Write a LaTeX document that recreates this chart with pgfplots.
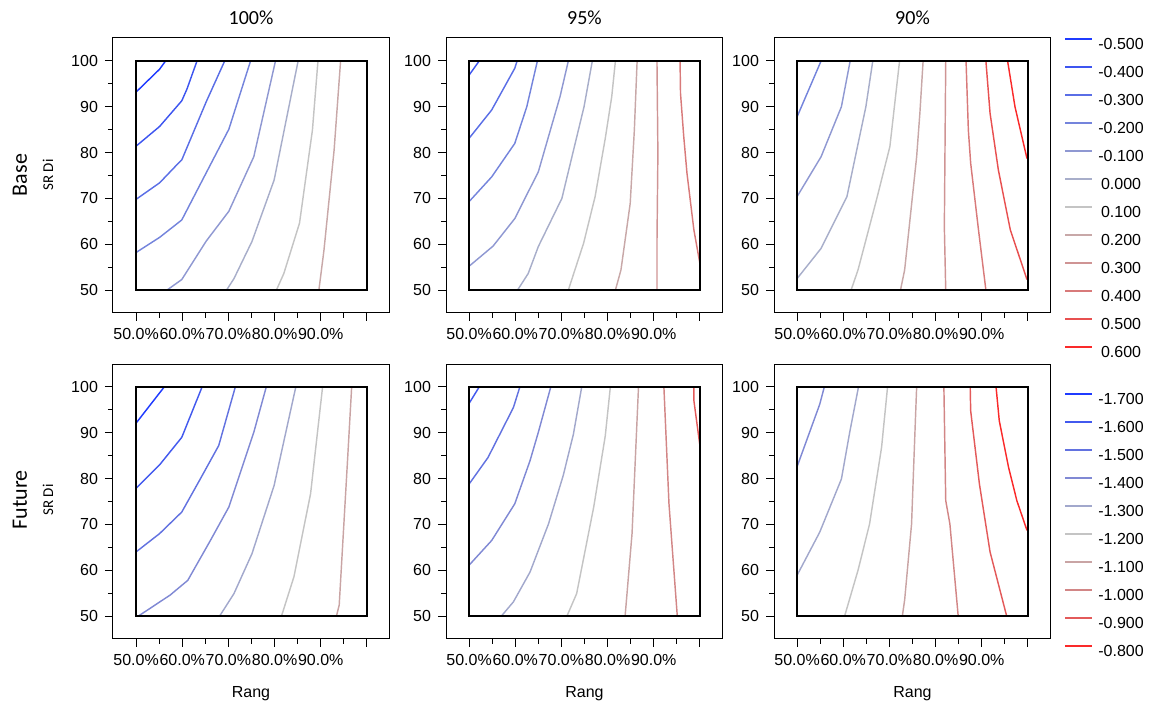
\documentclass[border=0pt]{standalone}
\usepackage{pgfplots}
\pgfplotsset{compat=1.18}
\usepackage{fontspec}
\setmainfont{Liberation Sans}
\newfontfamily\calfont{Carlito}

\definecolor{cT1}{HTML}{1F3BFF}
\definecolor{cT2}{HTML}{3D55F0}
\definecolor{cT3}{HTML}{5A6EE6}
\definecolor{cT4}{HTML}{7484DC}
\definecolor{cT5}{HTML}{8F98D2}
\definecolor{cT6}{HTML}{A8AECA}
\definecolor{cT7}{HTML}{C4C4C4}
\definecolor{cT8}{HTML}{C8A8A8}
\definecolor{cT9}{HTML}{CF9494}
\definecolor{cT10}{HTML}{D87A7A}
\definecolor{cT11}{HTML}{E85050}
\definecolor{cT12}{HTML}{FA2A2A}

\definecolor{cB1}{HTML}{1F3BFF}
\definecolor{cB2}{HTML}{4259EE}
\definecolor{cB3}{HTML}{6272E0}
\definecolor{cB4}{HTML}{8089D4}
\definecolor{cB5}{HTML}{A2A8CC}
\definecolor{cB6}{HTML}{C4C4C4}
\definecolor{cB7}{HTML}{C9A4A4}
\definecolor{cB8}{HTML}{D28686}
\definecolor{cB9}{HTML}{E35A5A}
\definecolor{cB10}{HTML}{FA2A2A}

\newcommand{\smallfont}{\fontsize{8}{9.5}\selectfont}

\pgfplotsset{
  panel/.style={
    scale only axis, width=138.5pt, height=137.5pt,
    xmin=45, xmax=105, ymin=45, ymax=105,
    anchor=south west, clip=false,
    axis line style={black, line width=0.5pt},
    tick align=outside, xtick pos=bottom, ytick pos=left,
    xtick={50,60,70,80,90,100},
    xticklabels={50.0\%,60.0\%,70.0\%,80.0\%,90.0\%,{}},
    minor xtick={55,65,75,85,95},
    ytick={50,60,70,80,90,100},
    yticklabels={50,60,70,80,90,100},
    minor ytick={55,65,75,85,95},
    major tick length=4pt, minor tick length=2.5pt,
    every tick/.style={black, line width=0.5pt},
    tick label style={font=\smallfont},
    every axis plot/.append style={line width=0.72pt},
  },
  c/.style={#1, forget plot},
  innerbox/.style={black, line width=0.8pt, line cap=rect, line join=miter, forget plot},
  legaxis/.style={
    scale only axis, width=30pt, height=137.5pt,
    xmin=0, xmax=1, ymin=0, ymax=1, hide axis, anchor=south west,
    legend style={draw=none, fill=none, inner sep=0pt, outer sep=0pt,
      font=\smallfont, anchor=north west,
      nodes={inner sep=0pt, text height=6pt, text depth=1.5pt}},
    legend cell align=left,
    legend image code/.code={\draw[##1, line width=1pt] (0pt,3pt) -- (13.5pt,3pt); \path (16.5pt,3pt);},
  },
}

\begin{document}
\begin{tikzpicture}
\useasboundingbox (0,0) rectangle (576pt,352.5pt);

% ---------------- legends (hidden axes) ----------------
\begin{axis}[legaxis, at={(532pt,196pt)},
  legend style={at={(0,1.0)}, row sep=6.5pt}]
\addlegendimage{color=cT1}\addlegendentry{-0.500}
\addlegendimage{color=cT2}\addlegendentry{-0.400}
\addlegendimage{color=cT3}\addlegendentry{-0.300}
\addlegendimage{color=cT4}\addlegendentry{-0.200}
\addlegendimage{color=cT5}\addlegendentry{-0.100}
\addlegendimage{color=cT6}\addlegendentry{\,0.000}
\addlegendimage{color=cT7}\addlegendentry{\,0.100}
\addlegendimage{color=cT8}\addlegendentry{\,0.200}
\addlegendimage{color=cT9}\addlegendentry{\,0.300}
\addlegendimage{color=cT10}\addlegendentry{\,0.400}
\addlegendimage{color=cT11}\addlegendentry{\,0.500}
\addlegendimage{color=cT12}\addlegendentry{\,0.600}
\end{axis}

\begin{axis}[legaxis, at={(532pt,33pt)},
  legend style={at={(0,0.898)}, row sep=6.5pt}]
\addlegendimage{color=cB1}\addlegendentry{-1.700}
\addlegendimage{color=cB2}\addlegendentry{-1.600}
\addlegendimage{color=cB3}\addlegendentry{-1.500}
\addlegendimage{color=cB4}\addlegendentry{-1.400}
\addlegendimage{color=cB5}\addlegendentry{-1.300}
\addlegendimage{color=cB6}\addlegendentry{-1.200}
\addlegendimage{color=cB7}\addlegendentry{-1.100}
\addlegendimage{color=cB8}\addlegendentry{-1.000}
\addlegendimage{color=cB9}\addlegendentry{-0.900}
\addlegendimage{color=cB10}\addlegendentry{-0.800}
\end{axis}

% ---------------- Base, 100% ----------------
\begin{axis}[panel, at={(56.5pt,196pt)}]
\addplot[c=cT1] coordinates {(50,93.2)(55.1,98.2)(56.4,100)};
\addplot[c=cT2] coordinates {(50,81.4)(55.1,85.7)(59.9,91.3)(61.0,93.8)(63.2,100)};
\addplot[c=cT3] coordinates {(50,69.8)(55.1,73.4)(58.8,77.3)(59.9,78.4)(65.2,91.1)(69.2,100)};
\addplot[c=cT4] coordinates {(50,58.2)(55.1,61.5)(59.9,65.3)(65.2,75.6)(70.1,85.1)(74.8,100)};
\addplot[c=cT5] coordinates {(56.7,50)(59.9,52.3)(65.2,60.7)(70.1,67.2)(75.5,79.1)(80.2,100)};
\addplot[c=cT6] coordinates {(69.6,50)(71.2,52.5)(75.1,60.6)(79.9,74.0)(85.1,100)};
\addplot[c=cT7] coordinates {(80.4,50)(82.0,53.6)(85.4,64.6)(88.2,84.9)(89.4,100)};
\addplot[c=cT8] coordinates {(89.6,50)(90.7,58.7)(92.9,80.6)(94.3,100)};
\addplot[innerbox] coordinates {(50,50)(100,50)(100,100)(50,100)(50,50)};
\end{axis}

% ---------------- Base, 95% ----------------
\begin{axis}[panel, at={(223pt,196pt)}]
\addplot[c=cT2] coordinates {(50,96.9)(52.2,100)};
\addplot[c=cT3] coordinates {(50,83.1)(54.9,89.3)(59.9,98.4)(60.4,100)};
\addplot[c=cT4] coordinates {(50,69.3)(54.9,74.7)(59.9,82.0)(62.5,90.0)(64.8,100)};
\addplot[c=cT5] coordinates {(50,55.2)(55.2,59.6)(59.9,65.6)(65.0,75.8)(69.7,92.2)(71.5,100)};
\addplot[c=cT6] coordinates {(60.5,50)(62.8,53.6)(65.0,59.5)(70.1,70.0)(74.9,90.0)(76.7,100)};
\addplot[c=cT7] coordinates {(71.5,50)(74.8,60.2)(77.3,70.4)(79.5,83.1)(80.9,92.2)(81.7,100)};
\addplot[c=cT8] coordinates {(81.7,50)(82.9,54.4)(84.9,68.9)(85.8,84.9)(86.4,100)};
\addplot[c=cT9] coordinates {(90.7,50)(90.7,60.2)(90.9,79.8)(90.7,100)};
\addplot[c=cT10] coordinates {(100,55.8)(98.7,63.1)(97.2,75.5)(96.5,83.5)(95.8,92.9)(95.7,100)};
\addplot[innerbox] coordinates {(50,50)(100,50)(100,100)(50,100)(50,50)};
\end{axis}

% ---------------- Base, 90% ----------------
\begin{axis}[panel, at={(387pt,196pt)}]
\addplot[c=cT4] coordinates {(50,87.8)(55.2,100)};
\addplot[c=cT5] coordinates {(50,70.4)(55.2,79.1)(59.6,90.0)(61.5,100)};
\addplot[c=cT6] coordinates {(50,52.5)(55.2,59.1)(60.8,70.4)(64.9,90.0)(66.4,100)};
\addplot[c=cT7] coordinates {(61.7,50)(63.2,54.4)(67.2,69.7)(70.1,81.3)(72.2,100)};
\addplot[c=cT8] coordinates {(72.4,50)(73.3,54.4)(75.9,79.1)(76.6,88.6)(77.3,100)};
\addplot[c=cT9] coordinates {(82.2,50)(81.9,63.8)(82.2,100)};
\addplot[c=cT10] coordinates {(90.9,50)(89.3,63.1)(87.6,77.7)(87.1,84.9)(86.6,100)};
\addplot[c=cT11] coordinates {(99.8,52.3)(96.2,63.1)(93.6,76.2)(91.8,88.6)(90.9,100)};
\addplot[c=cT12] coordinates {(99.8,78.7)(97.2,90.0)(95.6,100)};
\addplot[innerbox] coordinates {(50,50)(100,50)(100,100)(50,100)(50,50)};
\end{axis}

% ---------------- Future, 100% ----------------
\begin{axis}[panel, at={(56.5pt,33pt)}]
\addplot[c=cB1] coordinates {(50,92.1)(56.1,100)};
\addplot[c=cB2] coordinates {(50,77.9)(55.1,83.0)(59.9,89.0)(64.3,100)};
\addplot[c=cB3] coordinates {(50,64.0)(55.1,68.0)(59.9,72.7)(63.9,79.9)(67.9,87.2)(71.5,100)};
\addplot[c=cB4] coordinates {(50.5,50)(57.4,54.6)(61.2,57.8)(66.1,66.5)(70.1,73.8)(75.5,90.1)(78.2,100)};
\addplot[c=cB5] coordinates {(68.1,50)(71.2,54.9)(75.1,63.6)(79.9,78.5)(84.6,100)};
\addplot[c=cB6] coordinates {(81.5,50)(84.2,58.6)(87.8,76.7)(90.4,100)};
\addplot[c=cB7] coordinates {(93.4,50)(94.0,52.4)(95.8,83.9)(96.7,100)};
\addplot[innerbox] coordinates {(50,50)(100,50)(100,100)(50,100)(50,50)};
\end{axis}

% ---------------- Future, 95% ----------------
\begin{axis}[panel, at={(223pt,33pt)}]
\addplot[c=cB2] coordinates {(50,96.4)(52.2,100)};
\addplot[c=cB3] coordinates {(50,78.8)(54.1,84.6)(59.6,95.5)(61.0,100)};
\addplot[c=cB4] coordinates {(50,61.1)(54.9,66.5)(59.9,74.5)(63.2,83.9)(65.0,90.1)(67.7,100)};
\addplot[c=cB5] coordinates {(57.0,50)(59.6,53.1)(63.2,59.6)(67.2,70.1)(70.4,80.7)(72.6,89.7)(74.4,100)};
\addplot[c=cB6] coordinates {(71.2,50)(73.3,54.9)(77.0,73.8)(79.5,89.3)(80.6,100)};
\addplot[c=cB7] coordinates {(83.8,50)(85.3,68.0)(86.7,100)};
\addplot[c=cB8] coordinates {(95.1,50)(93.3,74.5)(92.2,100)};
\addplot[c=cB9] coordinates {(100,87.2)(98.7,97.0)(98.7,100)};
\addplot[innerbox] coordinates {(50,50)(100,50)(100,100)(50,100)(50,50)};
\end{axis}

% ---------------- Future, 90% ----------------
\begin{axis}[panel, at={(387pt,33pt)}]
\addplot[c=cB4] coordinates {(50,82.6)(54.9,96.2)(55.9,100)};
\addplot[c=cB5] coordinates {(50,58.9)(54.9,68.3)(59.6,79.9)(61.4,90.1)(63.3,100)};
\addplot[c=cB6] coordinates {(60.3,50)(63.2,60.0)(65.7,70.1)(68.3,86.8)(69.6,100)};
\addplot[c=cB7] coordinates {(72.8,50)(73.3,53.5)(74.8,70.1)(75.3,83.9)(75.9,100)};
\addplot[c=cB8] coordinates {(84.9,50)(83.1,70.1)(82.2,75.2)(81.8,100)};
\addplot[c=cB9] coordinates {(95.4,50)(91.8,64.0)(89.5,78.8)(87.6,94.8)(87.5,100)};
\addplot[c=cB10] coordinates {(99.8,68.7)(97.6,75.2)(95.8,82.5)(93.8,92.6)(93.1,100)};
\addplot[innerbox] coordinates {(50,50)(100,50)(100,100)(50,100)(50,50)};
\end{axis}

% ---------------- titles and labels ----------------
\node[font=\calfont\fontsize{10}{12}\selectfont] at (125.5pt,343.5pt) {100\%};
\node[font=\calfont\fontsize{10}{12}\selectfont] at (292.25pt,343.5pt) {95\%};
\node[font=\calfont\fontsize{10}{12}\selectfont] at (456.25pt,343.5pt) {90\%};

\node[font=\calfont\fontsize{11}{13}\selectfont, rotate=90] at (10pt,265pt) {Base};
\node[font=\calfont\fontsize{7.5}{9}\selectfont, rotate=90] at (24pt,265pt) {SR Di};
\node[font=\calfont\fontsize{11}{13}\selectfont, rotate=90] at (10pt,102.5pt) {Future};
\node[font=\calfont\fontsize{7.5}{9}\selectfont, rotate=90] at (24pt,102.5pt) {SR Di};

\node[font=\smallfont] at (125.5pt,5.5pt) {Rang};
\node[font=\smallfont] at (292.25pt,5.5pt) {Rang};
\node[font=\smallfont] at (456.25pt,5.5pt) {Rang};
\end{tikzpicture}
\end{document}
